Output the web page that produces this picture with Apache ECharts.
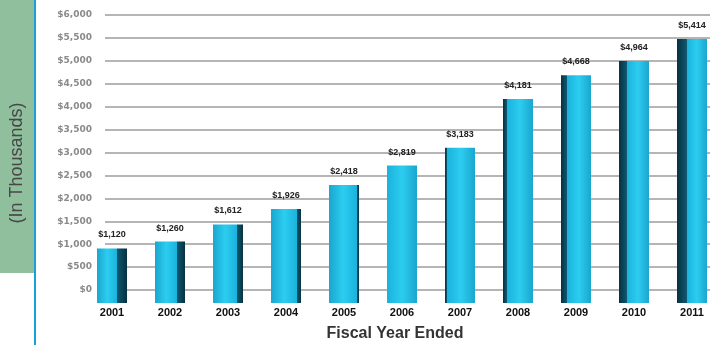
<!DOCTYPE html>
<html><head><meta charset="utf-8">
<script src="https://cdn.jsdelivr.net/npm/echarts@6/dist/echarts.min.js"></script>
<style>html,body{margin:0;padding:0;background:#fff}#c{width:721px;height:345px}</style>
</head><body><div id="c"></div>
<script>
const categories = ['2001','2002','2003','2004','2005','2006','2007','2008','2009','2010','2011'];
const values = [1120,1260,1612,1926,2418,2819,3183,4181,4668,4964,5414];
const yTicks = [0,500,1000,1500,2000,2500,3000,3500,4000,4500,5000,5500,6000];

const fmt = v => '$' + v.toLocaleString('en-US');
const n = categories.length;
function barColor(i){
  const t = (i - (n-1)/2) / ((n-1)/2); // -1..1
  const side = Math.abs(t) * 0.32;
  if (t < 0) {
    const e = 1 - side;
    return {type:'linear',x:0,y:0,x2:1,y2:0,colorStops:[
      {offset:0,color:'#1aa6cf'},{offset:e*0.5,color:'#2ccdf0'},{offset:Math.max(e-0.01,0),color:'#1bb2dc'},
      {offset:e,color:'#0e5870'},{offset:1,color:'#083140'}]};
  } else {
    return {type:'linear',x:0,y:0,x2:1,y2:0,colorStops:[
      {offset:0,color:'#083140'},{offset:side,color:'#0e5870'},{offset:Math.min(side+0.01,1),color:'#1bb2dc'},
      {offset:side+(1-side)*0.5,color:'#2ccdf0'},{offset:1,color:'#1aa6cf'}]};
  }
}

const chart = echarts.init(document.getElementById('c'), null, {renderer:'canvas'});
chart.setOption({
  animation:false,
  backgroundColor:'#ffffff',
  graphic:[
    {type:'rect',shape:{x:0,y:0,width:34,height:273},style:{fill:'#8fbf9d'},z:0},
    {type:'rect',shape:{x:34,y:0,width:2,height:345},style:{fill:'#1a9fd6'},z:1},
    {type:'text',x:17,y:163,rotation:Math.PI/2,style:{text:'(In Thousands)',fontFamily:'Liberation Sans',fontSize:18,fill:'#474747',align:'center',verticalAlign:'middle'},z:2},
    {type:'text',x:395,y:334,style:{text:'Fiscal Year Ended',fontFamily:'Liberation Sans',fontSize:16,fontWeight:'bold',fill:'#333',align:'center',verticalAlign:'middle'},z:2}
  ],
  grid:[
    {left:105,right:11,top:15,bottom:55},
    {left:112,right:29,top:10.4,bottom:42}
  ],
  xAxis:[
    {gridIndex:0,type:'category',data:categories,show:false},
    {gridIndex:1,type:'category',data:categories,boundaryGap:false,
     axisLine:{show:false},axisTick:{show:false},
     axisLabel:{margin:4,fontFamily:'Liberation Sans',fontSize:11,fontWeight:'bold',color:'#111',interval:0}}
  ],
  yAxis:[
    {gridIndex:0,type:'value',min:yTicks[0],max:yTicks[yTicks.length-1],interval:500,
     axisLine:{show:false},axisTick:{show:false},
     axisLabel:{margin:13,fontFamily:'DejaVu Sans',fontSize:9,fontWeight:'bold',color:'#8a8a8a',formatter:v=>fmt(v)},
     splitLine:{lineStyle:{color:'#9c9c9c',width:1.5}}},
    {gridIndex:1,type:'value',min:0,max:6000,show:false,splitLine:{show:false}}
  ],
  series:[{
    type:'bar',xAxisIndex:1,yAxisIndex:1,barWidth:30,
    data:values.map((v,i)=>({value:v,itemStyle:{color:barColor(i)}})),
    label:{show:true,position:'top',distance:9,formatter:p=>fmt(p.value),
      fontFamily:'Liberation Sans',fontSize:9,fontWeight:'bold',color:'#222'},
    z:3
  }]
});
</script></body></html>
